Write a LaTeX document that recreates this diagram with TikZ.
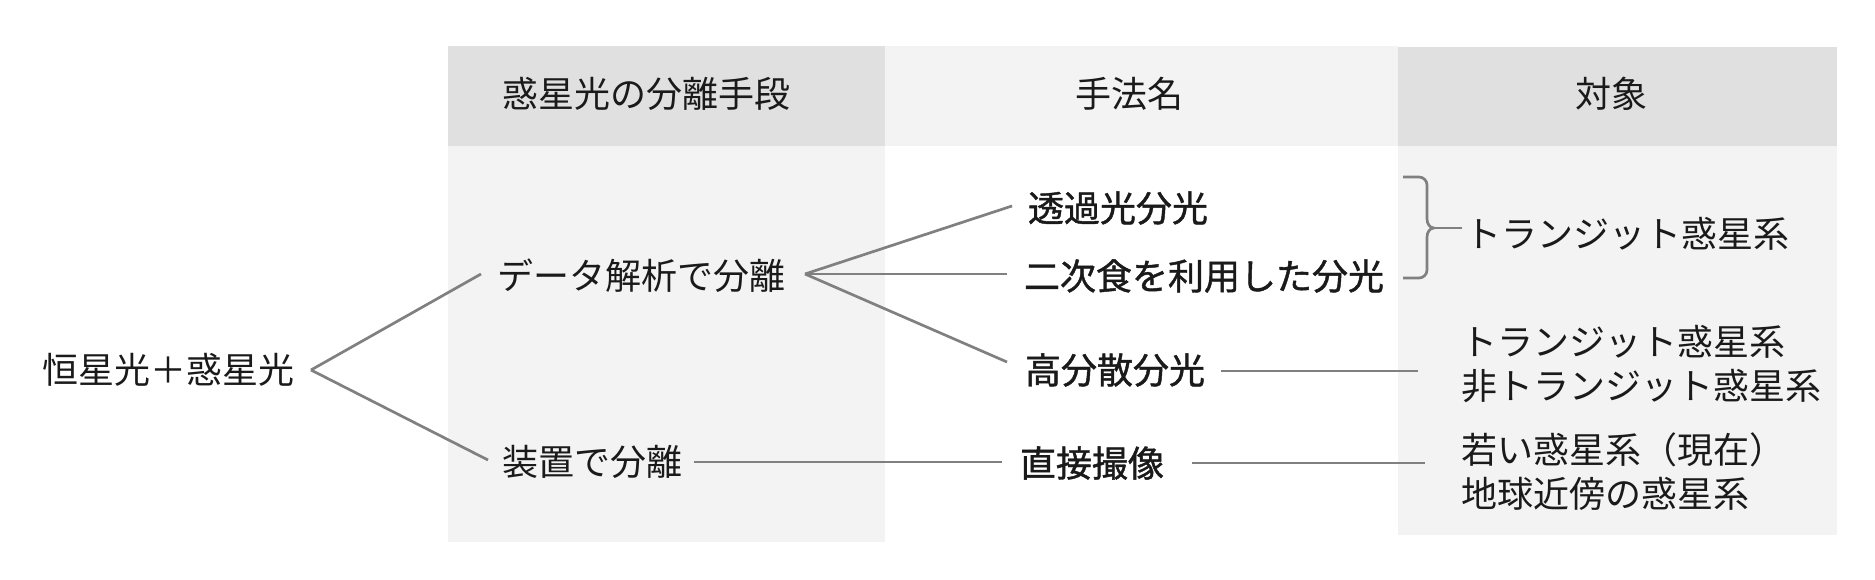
\documentclass[tikz,border=0pt]{standalone}
\usepackage{fontspec}
\setmainfont{Noto Sans CJK JP}
\newfontfamily\medfont{Noto Sans CJK JP}[FakeBold=1.2]
\usetikzlibrary{calc}
\definecolor{hdark}{HTML}{E0E0E0}
\definecolor{hlight}{HTML}{F3F3F3}
\definecolor{conncol}{HTML}{808080}
\definecolor{txt}{HTML}{1A1A1A}
\tikzset{
  lbl/.style={inner sep=0pt, outer sep=0pt, text=txt, font=\fontsize{36}{44}\selectfont},
  mlbl/.style={lbl, font=\fontsize{36}{44}\selectfont\medfont},
  conn/.style={draw=conncol, line width=2.7pt},
}
\begin{document}
\begin{tikzpicture}[x=1pt,y=-1pt]
\useasboundingbox (0,0) rectangle (1875,580);
% column backgrounds
\fill[hdark] (448,46) rectangle (885,146);
\fill[hlight] (448,146) rectangle (885,542);
\fill[hlight] (885,46) rectangle (1398,146);
\fill[hdark] (1398,47) rectangle (1837,146);
\fill[hlight] (1398,146) rectangle (1837,535);
% headers
\node[lbl, anchor=west] (h1) at (502,94) {惑星光の分離手段};
\node[lbl] (h2) at (1129,94) {手法名};
\node[lbl] (h3) at (1611,94) {対象};
% texts
\node[lbl, anchor=west] (root) at (42,370) {恒星光＋惑星光};
\node[lbl, anchor=west] (data) at (497,276) {データ解析で分離};
\node[lbl, anchor=west] (dev) at (502,462) {装置で分離};
\node[mlbl, anchor=west] (m1) at (1028,208) {透過光分光};
\node[mlbl, anchor=west] (m2) at (1024,276) {二次食を利用した分光};
\node[mlbl, anchor=west] (m3) at (1025,370) {高分散分光};
\node[mlbl, anchor=west] (m4) at (1020,463) {直接撮像};
\node[lbl, anchor=west] (t1) at (1465,234) {トランジット惑星系};
\node[lbl, anchor=west, align=left] (t2) at (1461,364) {トランジット惑星系\\非トランジット惑星系};
\node[lbl, anchor=west, align=left] (t3) at (1461,472) {若い惑星系（現在）\\地球近傍の惑星系};
% connectors
\coordinate (rv) at (311,370);
\coordinate (dv) at (805,274);
\draw[conn] (rv) -- ($(data.west)+(-16,-2)$);
\draw[conn] (rv) -- ($(dev.west)+(-14,-2)$);
\draw[conn] (dv) -- ($(m1.west)+(-16,-2)$);
\draw[conn] (dv) -- ($(m2.west)+(-17,-2)$);
\draw[conn] (dv) -- ($(m3.west)+(-18,-8)$);
\draw[conn] ($(dev.east)+(12,0)$) -- ($(m4.west)+(-18,-1)$);
\draw[conn] ($(m3.east)+(16,1)$) -- ($(t2.west)+(-43,7)$);
\draw[conn] ($(m4.east)+(28,0)$) -- ($(t3.west)+(-36,-9)$);
% bracket
\coordinate (bt) at (1434,228);
\draw[conn, line join=round] (1403,177) -- (1419,177) to[out=0,in=90] (1427,185) -- (1427,219)
  to[out=-90,in=180] (bt) to[out=180,in=90] (1427,237) -- (1427,270) to[out=-90,in=0] (1419,278) -- (1403,278);
\draw[conn] (bt) -- ($(t1.west)+(-3,-6)$);
\end{tikzpicture}
\end{document}
